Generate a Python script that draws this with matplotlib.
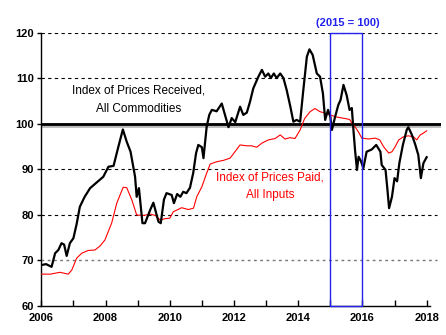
import numpy as np
import matplotlib
matplotlib.use('Agg')
import matplotlib.pyplot as plt
import matplotlib.patches as mpatches

plt.rcParams['font.family'] = ['Liberation Sans', 'DejaVu Sans']

# Índice de precios recibidos (todas las materias primas), 2015 = 100
recv_year = [2006.00, 2006.15, 2006.32, 2006.43, 2006.53, 2006.63, 2006.71, 2006.79, 2006.89, 2007.00,
             2007.10, 2007.20, 2007.35, 2007.52, 2007.70, 2007.93, 2008.09, 2008.25, 2008.40, 2008.54,
             2008.66, 2008.78, 2008.92, 2008.97, 2009.04, 2009.15, 2009.23, 2009.39, 2009.49, 2009.65,
             2009.72, 2009.82, 2009.90, 2010.06, 2010.13, 2010.23, 2010.33, 2010.42, 2010.52, 2010.63,
             2010.73, 2010.82, 2010.89, 2011.00, 2011.05, 2011.15, 2011.23, 2011.31, 2011.46, 2011.62,
             2011.72, 2011.83, 2011.93, 2012.04, 2012.19, 2012.29, 2012.40, 2012.50, 2012.60, 2012.76,
             2012.87, 2012.97, 2013.07, 2013.15, 2013.24, 2013.33, 2013.44, 2013.54, 2013.64, 2013.75,
             2013.85, 2013.95, 2014.06, 2014.16, 2014.27, 2014.35, 2014.45, 2014.58, 2014.68, 2014.77,
             2014.84, 2014.93, 2015.00, 2015.05, 2015.15, 2015.25, 2015.32, 2015.41, 2015.51, 2015.60,
             2015.67, 2015.72, 2015.77, 2015.83, 2015.88, 2015.95, 2016.03, 2016.13, 2016.29, 2016.43,
             2016.56, 2016.60, 2016.72, 2016.78, 2016.83, 2016.92, 2017.00, 2017.08, 2017.15, 2017.26,
             2017.38, 2017.43, 2017.53, 2017.64, 2017.74, 2017.82, 2017.90, 2018.00]
recv_val = [69.0, 69.2, 68.6, 71.6, 72.3, 73.8, 73.5, 71.0, 73.8, 74.9,
            78.0, 81.8, 84.0, 85.9, 87.0, 88.4, 90.6, 90.8, 95.0, 98.8,
            96.1, 93.9, 88.4, 84.0, 85.9, 78.2, 78.2, 81.1, 82.7, 78.5,
            78.2, 83.4, 84.8, 84.4, 82.6, 84.6, 84.0, 85.1, 84.8, 86.0,
            89.2, 93.6, 95.4, 94.9, 92.5, 99.4, 102.0, 103.1, 102.8, 104.5,
            102.0, 99.3, 101.3, 100.4, 103.8, 102.0, 102.5, 104.9, 107.8, 110.4,
            111.9, 110.4, 111.1, 110.1, 111.1, 110.1, 111.1, 110.1, 107.5, 104.0,
            100.5, 100.9, 100.5, 107.5, 114.8, 116.4, 115.2, 111.1, 110.4, 106.7,
            100.9, 103.1, 101.6, 98.7, 101.6, 104.2, 105.3, 108.6, 106.3, 103.1,
            103.5, 98.7, 94.3, 89.9, 92.8, 91.9, 90.3, 93.9, 94.4, 95.4,
            93.9, 91.0, 89.9, 85.5, 81.5, 84.0, 88.1, 87.4, 91.4, 95.4,
            98.7, 99.3, 97.8, 95.6, 93.2, 88.1, 91.4, 92.7]

# Índice de precios pagados (todos los insumos)
paid_year = [2006.00, 2006.28, 2006.58, 2006.84, 2006.95, 2007.10, 2007.26, 2007.46, 2007.67, 2007.83,
             2007.98, 2008.19, 2008.35, 2008.55, 2008.66, 2008.82, 2008.97, 2009.18, 2009.39, 2009.55,
             2009.70, 2009.86, 2010.00, 2010.11, 2010.37, 2010.58, 2010.74, 2010.84, 2011.00, 2011.15,
             2011.26, 2011.46, 2011.67, 2011.88, 2012.03, 2012.19, 2012.40, 2012.55, 2012.71, 2012.87,
             2013.07, 2013.28, 2013.44, 2013.59, 2013.75, 2013.90, 2014.06, 2014.20, 2014.37, 2014.52,
             2014.68, 2014.84, 2015.00, 2015.15, 2015.30, 2015.46, 2015.60, 2015.70, 2015.77, 2015.88,
             2015.98, 2016.19, 2016.40, 2016.54, 2016.66, 2016.82, 2016.92, 2017.02, 2017.13, 2017.28,
             2017.43, 2017.59, 2017.69, 2017.80, 2017.90, 2018.00]
paid_val = [67.0, 67.0, 67.4, 67.0, 67.9, 70.5, 71.6, 72.2, 72.3, 73.2,
            74.5, 78.2, 82.6, 86.1, 86.0, 83.3, 80.0, 79.9, 80.2, 79.9,
            78.9, 79.2, 79.3, 80.7, 81.6, 81.2, 81.5, 84.0, 86.2, 89.2,
            91.2, 91.7, 92.0, 92.5, 93.9, 95.4, 95.2, 95.2, 94.9, 95.8,
            96.5, 96.8, 97.6, 96.7, 97.0, 96.8, 98.7, 101.2, 102.7, 103.4,
            102.7, 102.4, 102.0, 101.6, 101.4, 101.2, 101.0, 99.9, 99.4, 98.2,
            96.9, 96.7, 96.9, 96.5, 95.0, 93.6, 93.9, 95.0, 96.5, 97.2,
            97.4, 97.2, 96.5, 97.6, 98.0, 98.5]

x_labels = [2006, 2008, 2010, 2012, 2014, 2016, 2018]
y_labels = [60, 70, 80, 90, 100, 110, 120]

fig = plt.figure(figsize=(4.46, 3.35), dpi=100)
ax = fig.add_axes([0.0926, 0.0866, 0.8964, 0.8149])

# Líneas de referencia
for y in [80, 90, 110, 120]:
    ax.axhline(y, color='black', lw=0.8, ls=(0, (3, 3)), xmax=0.99, zorder=1)
ax.axhline(70, color='#777777', lw=1.0, ls=(0, (2, 2.5)), xmax=0.99, zorder=1)
ax.axhline(99.7, color='#bbbbbb', lw=3.5, zorder=2)
ax.axhline(100, color='black', lw=2.0, zorder=3)

# Recuadro del año base
ax.add_patch(mpatches.Rectangle((2015, 60), 1, 60, fill=False, edgecolor='#2222ee', lw=1.0, zorder=5, clip_on=False))
ax.text(2015.55, 122.3, '(2015 = 100)', color='#2222ee', fontsize=8, fontweight='bold', ha='center', va='center')

ax.plot(paid_year, paid_val, color='red', lw=0.8, zorder=4)
ax.plot(recv_year, recv_val, color='black', lw=1.6, zorder=4)

ax.text(2009.03, 105.3, 'Index of Prices Received,\nAll Commodities', fontsize=8.5, ha='center', va='center',
        linespacing=1.65)
ax.text(2013.12, 86.3, 'Index of Prices Paid,\nAll Inputs', fontsize=8.5, color='red', ha='center', va='center',
        linespacing=1.65)

ax.set_xlim(2006, 2018.45)
ax.set_ylim(60, 120)
ax.set_xticks(x_labels)
ax.set_xticks(np.arange(2006, 2019), minor=True)
ax.set_yticks(y_labels)
ax.set_xticklabels([str(v) for v in x_labels], fontsize=8, fontweight='bold')
ax.set_yticklabels([str(v) for v in y_labels], fontsize=8, fontweight='bold')
ax.tick_params(axis='x', which='both', direction='in', length=4, width=1, pad=5)
ax.tick_params(axis='y', direction='out', length=3, width=1, pad=2)

for s in ['top', 'right']:
    ax.spines[s].set_visible(False)
ax.spines['bottom'].set_bounds(2006, 2018.1)
ax.spines['left'].set_linewidth(1.0)
ax.spines['bottom'].set_linewidth(1.0)

fig.savefig('out.png', dpi=100)
